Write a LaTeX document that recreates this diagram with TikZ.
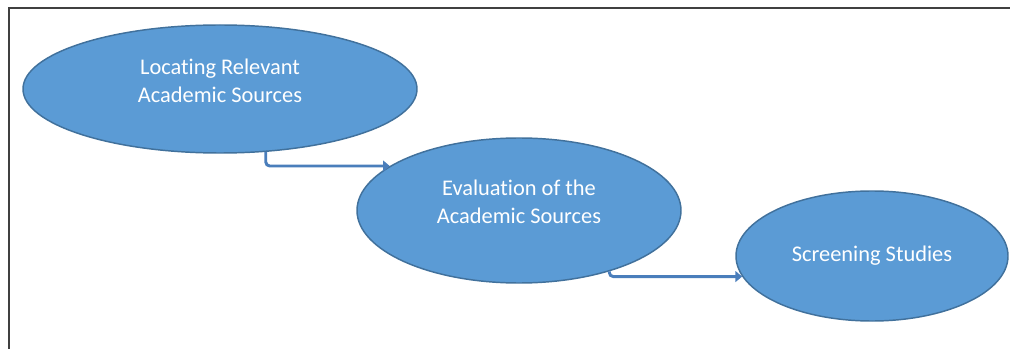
\documentclass[tikz,border=0pt]{standalone}
\usepackage{fontspec}
\setmainfont{Carlito}[Ligatures=NoCommon]
\usepackage{tikz}
\usepackage{xcolor}
\usetikzlibrary{shapes.geometric,arrows.meta}

\definecolor{stepfill}{HTML}{5B9BD5}
\definecolor{stepline}{HTML}{41719C}
\definecolor{arrowblue}{HTML}{4A7EBB}

\tikzset{
  stepnode/.style={ellipse, draw=stepline, line width=1.1pt, fill=stepfill,
    inner sep=0pt, text=white, align=center,
    font=\fontsize{16.8pt}{21pt}\selectfont},
  twoline/.style={text depth=13pt}
}
\tikzset{
  conn/.style={draw=arrowblue, line width=2.2pt, rounded corners=3pt,
    -{Triangle[length=5pt,width=8pt]}}
}

\begin{document}
\begin{tikzpicture}[x=0.75pt,y=-0.75pt]
            \useasboundingbox (0,0) rectangle (1010,349);
            \draw[line width=1.5pt, black!75] (9,349) -- (9,8) -- (1010,8);

            \node[stepnode, twoline, minimum width=295.5pt, minimum height=96pt] (Locating) at (220,89) {Locating Relevant\\Academic Sources};
            \node[stepnode, twoline, minimum width=243pt, minimum height=108.75pt] (Evaluation) at (519,210.5) {Evaluation of the\\Academic Sources};
            \node[stepnode, minimum width=204pt, minimum height=97.5pt] (Screening) at (872,256) {Screening Studies};

            \draw[conn] (Locating.-54) |- (Evaluation.161);
            \draw[conn] (Evaluation.-34) |- (Screening.-171);
        \end{tikzpicture}
\end{document}
